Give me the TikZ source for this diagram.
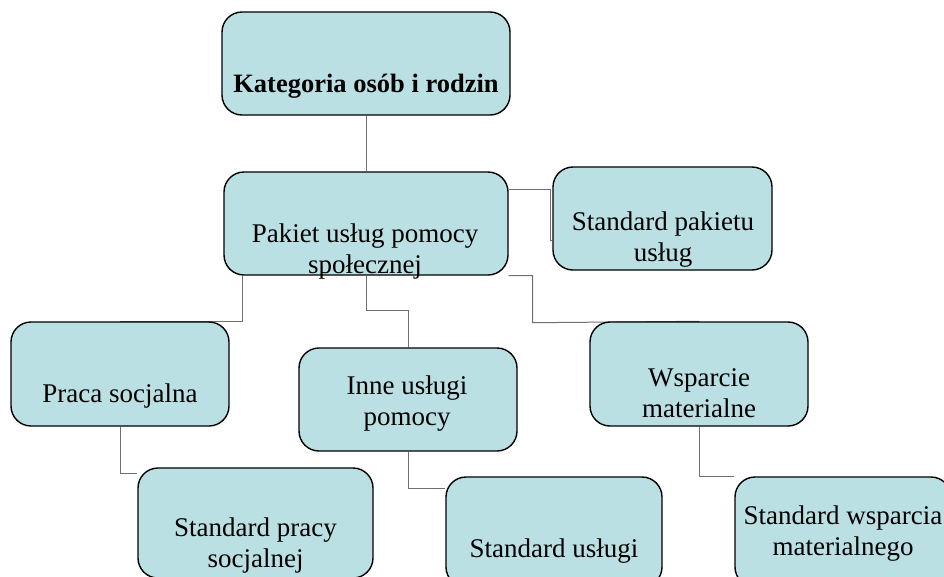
\documentclass[tikz,border=0pt]{standalone}
\usepackage{fontspec}
\setmainfont{Liberation Serif}
\usetikzlibrary{backgrounds}
\definecolor{boxfill}{RGB}{187,224,227}
\definecolor{linkgray}{RGB}{112,112,112}

\begin{document}
\begin{tikzpicture}[x=1pt,y=-1pt,
    box/.style={draw=black,line width=1.4pt,fill=boxfill,rounded corners=20pt,inner sep=0pt},
    boxtext/.style={anchor=base,align=center,inner sep=0pt,font=\fontsize{27}{31}\selectfont},
    link/.style={draw=linkgray,line width=1pt}]
\useasboundingbox (0,0) rectangle (944,576);

% boxes
\node[box,minimum width=288pt,minimum height=103pt] (kat) at (366,63.5) {};
\node[box,minimum width=284pt,minimum height=103pt] (pak) at (366,223.5) {};
\node[box,minimum width=219pt,minimum height=103pt] (stdpak) at (662.5,218.5) {};
\node[box,minimum width=218pt,minimum height=104pt] (praca) at (120,374) {};
\node[box,minimum width=218pt,minimum height=103pt] (inne) at (408,399.5) {};
\node[box,minimum width=218pt,minimum height=104pt] (wsp) at (699,374) {};
\node[box,minimum width=235pt,minimum height=110pt] (stdpraca) at (255.5,523) {};
\node[box,minimum width=216pt,minimum height=110pt] (stdusl) at (554,532) {};
\node[box,minimum width=216pt,minimum height=110pt] (stdwsp) at (843,532) {};

% texts (base = last line)
\node[boxtext,font=\fontsize{26.5}{31}\selectfont\bfseries] (kat-t) at (366,92) {Kategoria osób i rodzin};
\node[boxtext] (pak-t) at (365,273) {Pakiet usług pomocy\\społecznej};
\node[boxtext] (stdpak-t) at (663,261) {Standard pakietu\\usług};
\node[boxtext] (praca-t) at (120,402) {Praca socjalna};
\node[boxtext] (inne-t) at (407,425) {Inne usługi\\pomocy};
\node[boxtext] (wsp-t) at (699,417) {Wsparcie\\materialne};
\node[boxtext] (stdpraca-t) at (255.5,567) {Standard pracy\\socjalnej};
\node[boxtext] (stdusl-t) at (554,557) {Standard usługi};
\node[boxtext] (stdwsp-t) at (843,555) {Standard wsparcia\\materialnego};

% connectors
\begin{scope}[on background layer]
\draw[link] (kat.south) -- (pak.north);
\draw[link] ([yshift=-18pt]pak.north east) -| ([xshift=-2pt,yshift=-22pt]stdpak.west) -- ([yshift=-22pt]stdpak.west);
\draw[link] ([xshift=19pt]pak.south west) |- (praca.north);
\draw[link] (pak.south) -- ++(0,35) -| (inne.north);
\draw[link] (pak.south east) -| ++(24,47) -- (wsp.north);
\draw[link] (praca.south) |- ([yshift=-6pt]stdpraca.north west);
\draw[link] (inne.south) |- ([yshift=-12pt]stdusl.north west);
\draw[link] (wsp.south) |- (stdwsp.north west);
\end{scope}
\end{tikzpicture}
\end{document}
